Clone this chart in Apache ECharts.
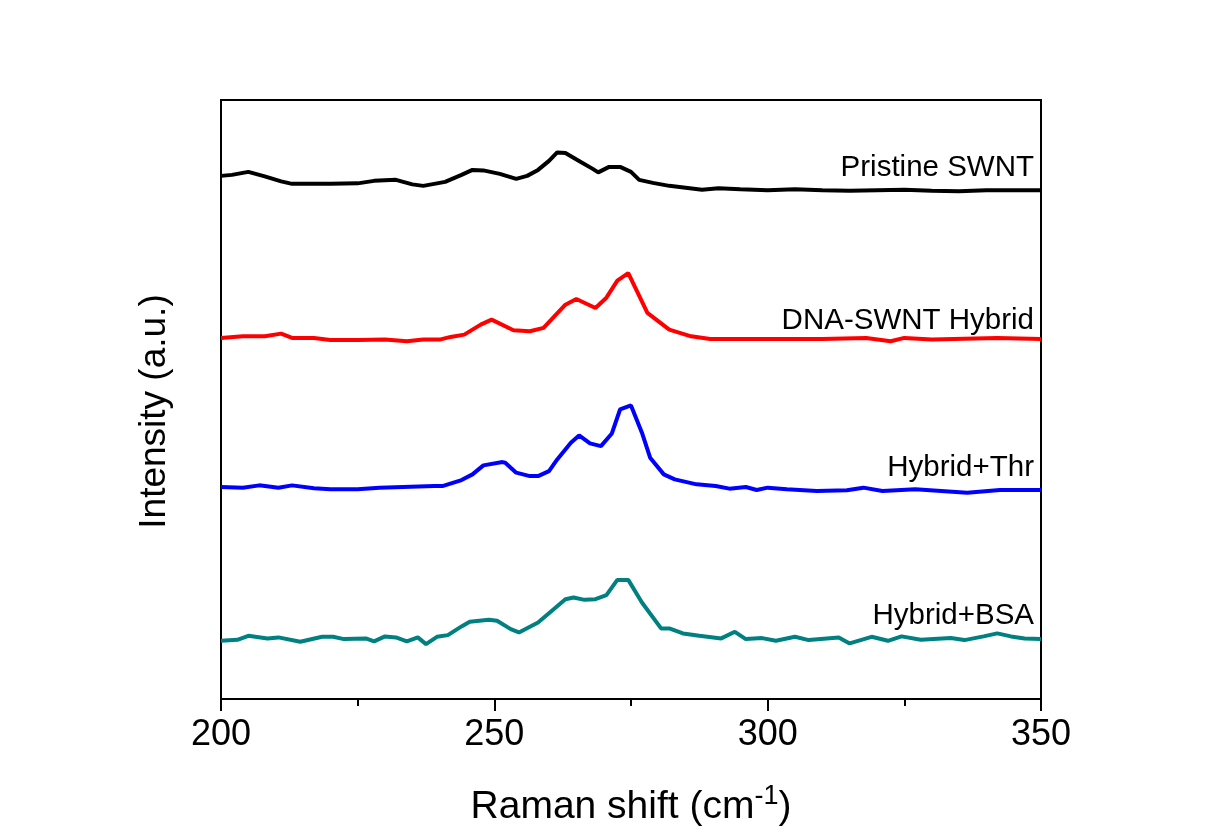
<!DOCTYPE html>
<html>
<head>
<meta charset="utf-8">
<script src="https://cdn.jsdelivr.net/npm/echarts@6/dist/echarts.min.js"></script>
<style>
html,body{margin:0;padding:0;background:#fff;}
#chart{width:1205px;height:832px;}
</style>
</head>
<body>
<div id="chart"></div>
<script>
// Raman shift (cm-1) and intensity (a.u., vertically offset traces)
const xTicks = [200, 250, 300, 350];

const pristineX = [200,202,205,208,211,213,220,225,228,232,235,237,241,244,246,248,251,254,256,258,260,261.5,263,265.5,268,269,271,273,275,276.5,279,282,285,288,291,295,300,305,310,315,320,325,330,335,340,345,350];
const pristineY = [524,525,528,523.5,518.5,516,516,516.5,519,520,515.5,514,518,525,530,529.5,526,521,524,530,539,547.5,547,539,531,527.5,533,533,528,520,517,514,512,510,511.5,510.5,509.5,510.5,509.5,509,509.5,510,509,508.5,509.5,509.5,509.5];

const dnaX = [200,204,208,211,213,217,220,225,230,234,237,240,242,244.5,247.5,249.5,253.5,256.5,259,263,265,268.5,270.5,272.5,274.5,278,282,286,289.5,300,310,318,322.5,325,330,342,350];
const dnaY = [361.7,363.3,363.3,366,361.7,361.7,359.5,359.7,360,358.3,360,360,362.7,365,375,380,369.3,368.3,371.7,395,400.7,391.7,402,419,426.7,386.7,370,363.3,360.7,360.7,360.7,361.7,358.3,361.7,360,361.7,360.7];

const thrX = [200,204,207,210.5,213,217,220,225,229,239,240.5,244,246,248,251.5,252,254,256.5,258,260,261.5,264,265.5,267.5,269.5,271.5,273,275,277,278.5,281,283,287,290.5,293,296,298,300,303.5,309,314.5,317.5,321,327,336.5,342.5,350];
const thrY = [212.3,211.7,214,211.7,214,211,210,210,211.7,213.3,213.3,219.3,225,234,237.3,236.7,226.7,223.3,223.3,228.3,240,256.7,264,256,253.3,266,290,294,266.7,241.7,225,220,215,213.3,210.7,212.3,209.3,211.7,210,208.3,209,211.7,208.3,210,206.7,209.3,209.3];

const bsaX = [200,203,205,208.5,210.5,214.5,218.5,220.5,222.5,226.5,228,230,232,234,236,237.5,239.5,241.5,244,245.5,249,250.5,253,254.5,258,263,264.5,266.5,268.5,270.5,272.5,274.5,277,280.5,282,284.5,287.5,291.5,294,296,299,301.5,305,307.5,313,315,319,322,324.5,328,333.5,336,339.5,342,344.5,347,350];
const bsaY = [58.3,59.3,63.3,60.7,61.7,57.3,62.3,62.3,60,60.7,57.7,62.7,61.7,57.7,61.7,55,62.3,64,72.7,77.3,79.3,78.3,70,66.7,76.7,100,101.7,99.3,100,104,119.3,119.3,96.7,70.7,70.7,65.7,63.3,60.7,67.3,60,61,58.3,62.3,59,61.7,55.7,62.3,58.3,62.7,59.3,61,59,62.7,65.7,62.7,60.7,60];

const seriesNames = ['Pristine SWNT', 'DNA-SWNT Hybrid', 'Hybrid+Thr', 'Hybrid+BSA'];
const seriesColors = ['#000000', '#ff0000', '#0000ff', '#008080'];

function zip(xs, ys){ return xs.map((x,i)=>[x, ys[i]]); }
const allData = [zip(pristineX,pristineY), zip(dnaX,dnaY), zip(thrX,thrY), zip(bsaX,bsaY)];

const FONT = 'Liberation Sans, Arial, sans-serif';
const chart = echarts.init(document.getElementById('chart'), null, {renderer:'canvas'});

// label anchor baselines (layout, in pixels)
const labelY = [180, 333, 480, 628];
const labelRight = 1034;

chart.setOption({
  backgroundColor: '#ffffff',
  animation: false,
  grid: { left: 221, right: 164, top: 100, bottom: 132, show: true, borderColor: '#000', borderWidth: 2, backgroundColor: 'transparent' },
  xAxis: {
    type: 'value', min: 200, max: 350, interval: 50,
    axisLine: { show: true, lineStyle: { color: '#000', width: 2 } },
    axisTick: { show: true, inside: false, length: 12, lineStyle: { color: '#000', width: 2 } },
    minorTick: { show: true, splitNumber: 2, length: 7, lineStyle: { color: '#000', width: 2 } },
    splitLine: { show: false },
    axisLabel: { color: '#000', fontSize: 36, fontFamily: FONT, margin: 18,
      customValues: xTicks },
    name: '{m|Raman shift (cm}{s|-1}{m|)}',
    nameLocation: 'middle', nameGap: 84,
    nameTextStyle: { rich: {
      m: { fontSize: 39, fontFamily: FONT, color: '#000', verticalAlign: 'bottom', lineHeight: 44 },
      s: { fontSize: 27, fontFamily: FONT, color: '#000', verticalAlign: 'top', lineHeight: 44 }
    } }
  },
  yAxis: {
    type: 'value', min: 0, max: 600,
    axisLine: { show: true, lineStyle: { color: '#000', width: 2 } },
    axisTick: { show: false }, axisLabel: { show: false }, splitLine: { show: false },
    name: 'Intensity (a.u.)', nameLocation: 'middle', nameGap: 48, nameRotate: 90,
    nameTextStyle: { fontSize: 37, fontFamily: FONT, color: '#000', padding: [0, 24, 0, 0] }
  },
  series: allData.map((d, i) => ({
    type: 'line', name: seriesNames[i], data: d, showSymbol: false, smooth: false,
    lineStyle: { color: seriesColors[i], width: 4 }, itemStyle: { color: seriesColors[i] }
  })),
  graphic: seriesNames.map((n, i) => ({
    type: 'text', right: 1205 - labelRight, top: labelY[i] - 27,
    style: { text: n, fontSize: 29.5, fontFamily: FONT, fill: '#000' }
  }))
});
</script>
</body>
</html>
